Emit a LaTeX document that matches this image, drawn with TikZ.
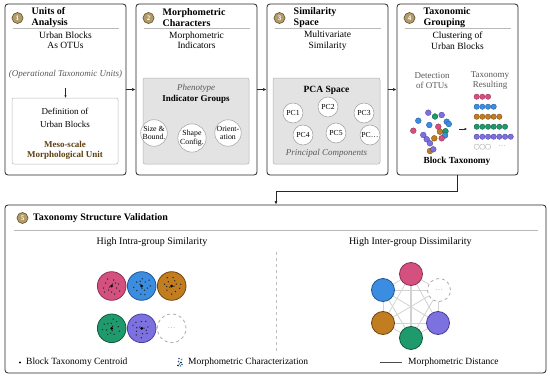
\documentclass[tikz,border=0pt]{standalone}
\usepackage{fontspec}
\setmainfont{Liberation Serif}
\usetikzlibrary{arrows.meta,calc}
\definecolor{fpink}{HTML}{D4507E}\definecolor{lpink}{HTML}{8C2E50}
\definecolor{fblue}{HTML}{3A8DE0}\definecolor{lblue}{HTML}{1F5595}
\definecolor{forange}{HTML}{C17D20}\definecolor{lorange}{HTML}{704510}
\definecolor{fgreen}{HTML}{1E9A6C}\definecolor{lgreen}{HTML}{0F5A3F}
\definecolor{fpurple}{HTML}{7D71E0}\definecolor{lpurple}{HTML}{463D9E}
\definecolor{badgefill}{HTML}{B39C6C}\definecolor{badgeline}{HTML}{6D5B36}
\definecolor{meso}{HTML}{5C4012}
\newcommand{\clusterdots}[2]{%
  \begin{scope}[shift={(#1.center)}, rotate=#2]
    \foreach \dx/\dy in {-6/-3,-3/4,2/-6,5/2,7/-2,-8/2,0/6,3/8,-4/-7,8/5,-2/1,4/-3,-7/6,1/-2}
      \fill[black!85] (\dx,\dy) circle (0.75pt);
  \end{scope}
  \fill[black] (#1.center) circle (1.5pt);}
\begin{document}
\begin{tikzpicture}[x=1pt,y=-1pt,
  panel/.style={draw=black!85, line width=0.8pt, rounded corners=3pt, fill=white},
  badge/.style={circle, fill=badgefill, draw=badgeline, line width=0.7pt, minimum size=11pt, inner sep=0pt, text=white, font=\fontsize{7}{7}\selectfont\bfseries},
  ttl/.style={anchor=west, align=left, font=\fontsize{10}{11}\selectfont\bfseries, inner sep=0pt},
  sub/.style={align=center, font=\fontsize{9.5}{10.5}\selectfont, inner sep=0pt},
  sep/.style={draw=gray!55, line width=0.6pt},
  graybox/.style={draw=gray!60, fill=gray!22, rounded corners=2pt, line width=0.5pt},
  lightbox/.style={draw=gray!55, fill=white, rounded corners=2pt, line width=0.5pt},
  wcirc/.style={circle, draw=gray!75, fill=white, line width=0.5pt, inner sep=0pt, align=center},
  arr/.style={-{Latex[length=3.5pt,width=3pt]}, line width=0.6pt, draw=black!85},
  bigc/.style={circle, line width=0.8pt, minimum size=28.6pt, inner sep=0pt},
  midc/.style={circle, line width=0.8pt, minimum size=23pt, inner sep=0pt},
  dotd/.style={line width=0.3pt},
  grayt/.style={text=gray!70!black}
]
\useasboundingbox (0,0) rectangle (550,380);

% ---------- panels ----------
\node[panel, minimum width=121pt, minimum height=171pt] (b1) at (65.5,89.5) {};
\node[panel, minimum width=121pt, minimum height=171pt] (b2) at (196.5,89.5) {};
\node[panel, minimum width=121pt, minimum height=171pt] (b3) at (327.5,89.5) {};
\node[panel, minimum width=121pt, minimum height=171pt] (b4) at (457.5,89.5) {};
\node[panel, minimum width=541pt, minimum height=168pt] (b5) at (275.5,289) {};

\draw[arr] (b1.east) -- (b2.west);
\draw[arr] (b2.east) -- (b3.west);
\draw[arr] (b3.east) -- (b4.west);
\coordinate (k) at (276,191);
\draw[arr] (b4.south) |- (k) -- (k |- b5.north);

% ---------- headers ----------
\foreach \L/\n/\t [count=\i] in {5/1/{Units of\\Analysis}, 136/2/{Morphometric\\Characters}, 267/3/{Similarity\\Space}, 397/4/{Taxonomic\\Grouping}}{
  \node[badge] (bd\i) at (\L+12.5,18) {\n};
  \node[ttl] (tt\i) at (\L+26.5,18) {\t};
  \draw[sep] (\L+7.5,28.5) -- (\L+113.5,28.5);
}

% ---------- box 1 ----------
\node[sub] (s1) at (65.5,40.5) {Urban Blocks\\As OTUs};
\node[inner sep=0pt, grayt, font=\fontsize{9}{10}\selectfont\itshape] (n1) at (65.5,74) {(Operational Taxonomic Units)};
\node[lightbox, minimum width=106pt, minimum height=66pt] (i1) at (65,131) {};
\coordinate (a1) at (65.5,88);
\draw[arr, -{Latex[length=2.5pt,width=2.5pt]}] (a1) -- (a1 |- i1.north);
\node[align=center, inner sep=0pt, font=\fontsize{9}{13}\selectfont] (d1) at (65,117.5) {Definition of\\Urban Blocks};
\node[align=center, inner sep=0pt, text=meso, font=\fontsize{9}{10}\selectfont\bfseries] (m1) at (65,150.5) {Meso-scale\\Morphological Unit};

% ---------- box 2 ----------
\node[sub] (s2) at (196.5,40.5) {Morphometric\\Indicators};
\node[graybox, minimum width=106pt, minimum height=86pt] (i2) at (196,121) {};
\node[inner sep=0pt, grayt, font=\fontsize{9}{10}\selectfont\itshape] (p2) at (196,88) {Phenotype};
\node[inner sep=0pt, font=\fontsize{9}{10}\selectfont\bfseries] (g2) at (196,99.5) {Indicator Groups};
\node[wcirc, minimum size=24pt, font=\fontsize{7.8}{8.6}\selectfont] (c21) at (154,133) {Size \&\\Bound.};
\node[wcirc, minimum size=25pt, font=\fontsize{7.8}{8.6}\selectfont] (c22) at (192,138) {Shape\\Config.};
\node[wcirc, minimum size=24pt, font=\fontsize{7.8}{8.6}\selectfont] (c23) at (228,133) {Orient-\\ation};

% ---------- box 3 ----------
\node[sub] (s3) at (327.5,40.5) {Multivariate\\Similarity};
\node[graybox, minimum width=107pt, minimum height=86pt] (i3) at (326.5,121) {};
\node[inner sep=0pt, font=\fontsize{9.5}{10}\selectfont\bfseries] (ps) at (326.5,90) {PCA Space};
\foreach \nm/\x/\y/\t in {pc1/293/113/PC1, pc2/328/107/PC2, pc3/364/113/PC3, pc4/303/135/PC4, pc5/336/133/PC5, pc6/370/135/{PC\ldots}}
  \node[wcirc, minimum size=20pt, font=\fontsize{7.7}{8}\selectfont] (\nm) at (\x,\y) {\t};
\node[inner sep=0pt, grayt, font=\fontsize{9}{10}\selectfont\itshape] (pcn) at (326.5,153) {Principal Components};

% ---------- box 4 ----------
\node[sub] (s4) at (457.5,40.5) {Clustering of\\Urban Blocks};
\node[align=center, inner sep=0pt, grayt, font=\fontsize{9}{10}\selectfont] (det) at (432,81) {Detection\\of OTUs};
\node[align=center, inner sep=0pt, grayt, font=\fontsize{9}{10}\selectfont] (res) at (490,81) {Taxonomy\\Resulting};
\foreach \x/\y/\c in {428.3/112.7/purple, 435/116.5/green, 441.7/115/purple, 446.7/121.7/blue, 448.8/124/blue, 418.3/120.7/blue, 429.3/125/blue, 438.3/126.7/pink, 413.3/130.7/pink, 440/131.7/orange, 445.5/131.2/green, 423.3/135/purple, 426.7/139.3/purple, 445/135.5/blue, 441.7/138.3/pink, 434.3/138.3/orange, 430/143.3/purple, 430/151/orange, 433.3/149.3/purple}
  \filldraw[dotd, fill=f\c, draw=l\c] (\x,\y) circle (2.9pt);
\coordinate (a4) at (459,129);
\draw[arr, -{Latex[length=2.5pt,width=2.5pt]}] (a4) -- ++(8,0);
\foreach \c/\n [count=\r] in {pink/3, blue/4, orange/5, green/6, purple/7}
  \foreach \i in {1,...,\n}
    \filldraw[dotd, fill=f\c, draw=l\c] ({476.7+(\i-1)*5.67},{86.7+\r*10}) circle (2.7pt);
\foreach \i in {1,2,3}
  \draw[gray!60, line width=0.4pt, fill=white] ({476.7+(\i-1)*5.67},146.7) circle (2.7pt);
\node[inner sep=0pt, text=gray!70, font=\fontsize{8}{8}\selectfont] (el4) at (502,146) {\ldots};
\node[inner sep=0pt, font=\fontsize{9.3}{10}\selectfont\bfseries] (bt) at (457,161) {Block Taxonomy};

% ---------- box 5 ----------
\node[badge] (bd5) at (22.5,218) {5};
\node[ttl] (tt5) at (33,218) {Taxonomy Structure Validation};
\draw[sep] (14,230) -- (538,230);
\node[inner sep=0pt, font=\fontsize{10}{11}\selectfont] (h1) at (152,242) {High Intra-group Similarity};
\node[inner sep=0pt, font=\fontsize{10}{11}\selectfont] (h2) at (410.3,242) {High Inter-group Dissimilarity};
\coordinate (v1) at (276,252);
\coordinate (v2) at (276,353);
\draw[gray!50, dashed, line width=0.5pt] (v1) -- (v2);

\node[bigc, fill=fpink, draw=lpink] (g1) at (111.7,286) {};
\node[bigc, fill=fblue, draw=lblue] (g2) at (141.7,286) {};
\node[bigc, fill=forange, draw=lorange] (g3) at (171.7,286) {};
\node[bigc, fill=fgreen, draw=lgreen] (g4) at (111.7,328.3) {};
\node[bigc, fill=fpurple, draw=lpurple] (g5) at (141.7,328.3) {};
\node[bigc, fill=white, draw=gray!65, dashed, text=gray!70, font=\fontsize{8}{8}\selectfont] (g6) at (171.7,328.3) {\ldots};
\clusterdots{g1}{0}
\clusterdots{g2}{70}
\clusterdots{g3}{150}
\clusterdots{g4}{220}
\clusterdots{g5}{300}

\coordinate (q1) at (411,274);
\coordinate (q2) at (439,290);
\coordinate (q3) at (438,323);
\coordinate (q4) at (411,338);
\coordinate (q5) at (383,323);
\coordinate (q6) at (383,290);
\foreach \a/\b in {q1/q2,q1/q3,q1/q5,q1/q6,q2/q3,q2/q4,q2/q5,q2/q6,q3/q4,q3/q5,q3/q6,q4/q5,q4/q6,q5/q6}
  \draw[gray!35, line width=0.8pt] (\a) -- (\b);
\draw[gray!35, line width=1.4pt] (q1) -- (q4);
\node[midc, fill=fpink, draw=lpink] (r1) at (q1) {};
\node[midc, fill=white, draw=gray!65, dashed, text=gray!70, font=\fontsize{8}{8}\selectfont] (r2) at (q2) {\ldots};
\node[midc, fill=fpurple, draw=lpurple] (r3) at (q3) {};
\node[midc, fill=fgreen, draw=lgreen] (r4) at (q4) {};
\node[midc, fill=forange, draw=lorange] (r5) at (q5) {};
\node[midc, fill=fblue, draw=lblue] (r6) at (q6) {};

% ---------- legend ----------
\coordinate (ld) at (20,362.5);
\fill[black] (ld) circle (1.2pt);
\node[anchor=west, inner sep=0pt, font=\fontsize{9.5}{10}\selectfont] (lt1) at (26,362) {Block Taxonomy Centroid};
\foreach \dx/\dy/\cc in {0/-3.5/lblue,2.5/-2.5/fblue,-0.5/-0.5/lblue,2/0.5/black,0.5/2/fblue,3/2.5/lblue,-1/3.5/black,1.5/4/fblue}
  \fill[\cc] ($(179,362)+(\dx,\dy)$) circle (0.8pt);
\node[anchor=west, inner sep=0pt, font=\fontsize{9.5}{10}\selectfont] (lt2) at (188,362) {Morphometric Characterization};
\coordinate (lm1) at (380,362);
\coordinate (lm2) at (402,362);
\draw[gray!60!black, line width=0.6pt] (lm1) -- (lm2);
\node[anchor=west, inner sep=0pt, font=\fontsize{9.5}{10}\selectfont] (lt3) at (408,362) {Morphometric Distance};
\end{tikzpicture}
\end{document}
